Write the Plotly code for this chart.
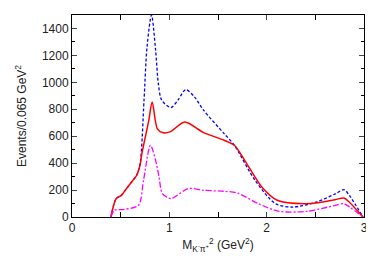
import plotly.graph_objects as go

blue_x = [0.40, 0.454, 0.507, 0.56, 0.612, 0.665, 0.70, 0.74, 0.771, 0.817, 0.859, 0.887, 0.922, 1.017, 1.09, 1.169, 1.26, 1.352, 1.563, 1.668, 1.88, 2.09, 2.27, 2.51, 2.70, 2.795, 2.85, 2.99]
blue_y = [0, 137, 161, 211, 260, 310, 397, 867, 1263, 1500, 1238, 991, 867, 813, 870, 946, 890, 793, 619, 533, 273, 99, 74, 111, 170, 203, 160, 0]

red_x = [0.40, 0.454, 0.507, 0.56, 0.612, 0.665, 0.70, 0.718, 0.789, 0.824, 0.876, 0.929, 1.007, 1.158, 1.352, 1.563, 1.668, 1.774, 1.95, 2.109, 2.408, 2.70, 2.795, 2.85, 2.99]
red_y = [0, 137, 161, 211, 260, 310, 390, 471, 718, 854, 657, 627, 632, 706, 627, 570, 533, 421, 223, 124, 99, 128, 141, 110, 0]

mag_x = [0.40, 0.436, 0.54, 0.683, 0.735, 0.806, 0.859, 0.894, 0.929, 1.017, 1.193, 1.352, 1.563, 1.70, 1.915, 2.125, 2.41, 2.70, 2.795, 2.85, 2.99]
mag_y = [0, 50, 57, 87, 273, 533, 421, 297, 174, 137, 211, 198, 191, 178, 99, 42, 42, 85, 99, 75, 0]

fig = go.Figure()
fig.add_trace(go.Scatter(x=blue_x, y=blue_y, mode="lines", line=dict(color="#0000ff", width=1.3, dash="3px,2px", shape="spline", smoothing=0.8)))
fig.add_trace(go.Scatter(x=red_x, y=red_y, mode="lines", line=dict(color="#ff0000", width=1.5, shape="spline", smoothing=0.8)))
fig.add_trace(go.Scatter(x=mag_x, y=mag_y, mode="lines", line=dict(color="#ff00ff", width=1.3, dash="6px,2px,2px,2px", shape="spline", smoothing=0.8)))

fig.update_layout(
    width=366, height=259,
    margin=dict(l=64, r=10, t=7, b=50, autoexpand=False),
    paper_bgcolor="white", plot_bgcolor="white",
    showlegend=False,
    font=dict(family="Liberation Sans, Arial, sans-serif", size=12, color="#222222"),
)
fig.update_xaxes(
    range=[0, 3], tickvals=[0, 1, 2, 3], ticks="inside", ticklen=5, mirror="allticks", automargin=False,
    showline=True, linecolor="black", linewidth=1, showgrid=False, zeroline=False,
    minor=dict(tickvals=[0.5, 1.5, 2.5], ticks="inside", ticklen=5, tickcolor="black", showgrid=False),
    title=dict(text="M<sub>K<sup>-</sup>π<sup>+</sup></sub><sup>2</sup> (GeV<sup>2</sup>)", standoff=6, font=dict(size=12)),
)
fig.update_yaxes(
    range=[0, 1500], tickvals=[0, 200, 400, 600, 800, 1000, 1200, 1400], ticks="inside", ticklen=5, mirror="allticks", automargin=False,
    showline=True, linecolor="black", linewidth=1, showgrid=False, zeroline=False,
    minor=dict(dtick=100, ticks="inside", ticklen=3, tickcolor="black", showgrid=False),
    title=dict(text="Events/0.065 GeV<sup>2</sup>", standoff=12, font=dict(size=12)),
)
fig.write_html("out.html")
